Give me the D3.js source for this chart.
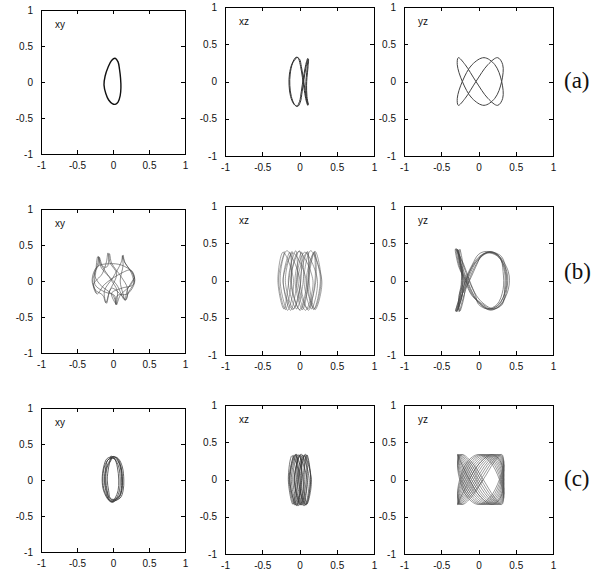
<!DOCTYPE html>
<html><head><meta charset="utf-8">
<script src="https://cdn.jsdelivr.net/npm/d3@7"></script>
<style>
body{margin:0;background:#fff}
svg{display:block}
.sans{font-family:"Liberation Sans", Arial, Helvetica, sans-serif;}
.serif{font-family:"Liberation Serif", "Times New Roman", Times, serif;}
</style>
</head><body>
<svg id="chart" width="600" height="573"></svg>
<script>
// ---------- data ----------
const tickValues = [-1, -0.5, 0, 0.5, 1];
const tickLabels = ["-1", "-0.5", "0", "0.5", "1"];
const panelNames = ["xy", "xz", "yz"];
const rowLabels = ["(a)", "(b)", "(c)"];

const aXY = [[0.03,0.33],[0.07,0.28],[0.09,0.18],[0.105,0.05],[0.11,-0.08],[0.10,-0.19],[0.07,-0.28],[0.03,-0.31],[-0.01,-0.30],[-0.06,-0.25],[-0.10,-0.16],[-0.125,-0.04],[-0.11,0.08],[-0.07,0.20],[-0.02,0.30]];

const aXZ = [[-0.03,0.33],[-0.09,0.25],[-0.125,0.1],[-0.13,-0.05],[-0.11,-0.2],[-0.065,-0.31],[-0.025,-0.335],[0.01,-0.28],[0.035,-0.14],[0.06,0.03],[0.085,0.18],[0.105,0.27],[0.12,0.30],[0.115,0.2],[0.1,0.05],[0.095,-0.05],[0.1,-0.2],[0.115,-0.29],[0.12,-0.31],[0.1,-0.26],[0.075,-0.12],[0.05,0.05],[0.025,0.2],[0.0,0.3],
[-0.045,0.325],[-0.1,0.24],[-0.135,0.1],[-0.14,-0.05],[-0.12,-0.2],[-0.075,-0.305],[-0.035,-0.33],[0.0,-0.27],[0.025,-0.13],[0.05,0.04],[0.075,0.18],[0.095,0.27],[0.11,0.31],[0.105,0.2],[0.09,0.05],[0.085,-0.05],[0.09,-0.2],[0.105,-0.29],[0.11,-0.32],[0.09,-0.26],[0.065,-0.12],[0.04,0.05],[0.015,0.2],[-0.01,0.3],[-0.03,0.33]];

const aYZ = [[-0.034,0],[0.126,0.226],[0.257,0.32],[0.325,0.226],[0.311,0],[0.219,-0.226],[0.074,-0.32],[-0.086,-0.226],[-0.217,0],[-0.285,0.226],[-0.271,0.32],[-0.179,0.226],
[-0.034,0],[0.126,-0.226],[0.257,-0.32],[0.325,-0.226],[0.311,0],[0.219,0.226],[0.074,0.32],[-0.086,0.226],[-0.217,0],[-0.285,-0.226],[-0.271,-0.32],[-0.179,-0.226]];

const bXY = [[-0.23,-0.17],[-0.28,0.0],[-0.24,0.15],[-0.21,0.25],[-0.2,0.34],[-0.17,0.24],[-0.05,0.05],[0.06,-0.14],[0.05,-0.33],[0.1,-0.2],[0.25,-0.05],[0.29,0.05],[0.22,0.18],[0.16,0.26],[0.14,0.36],[0.11,0.25],[0.0,0.05],[-0.12,-0.14],[-0.09,-0.31],[-0.05,-0.15],[0.05,0.1],[-0.04,0.25],[-0.07,0.39],[-0.09,0.27],[-0.15,0.1],[-0.27,-0.05],[-0.22,-0.18],[-0.12,-0.05],[0.1,0.1],[0.25,0.15],[0.3,0.0],[0.22,-0.15],[0.17,-0.27],[0.14,-0.18],[0.1,0.0],[0.14,0.22],[0.13,0.35],[0.17,0.25],[0.26,0.1],[0.28,-0.05],[0.12,-0.1],[-0.02,-0.17],[0.04,-0.32],[0.0,-0.2],[-0.18,-0.05],[-0.26,0.1],[-0.2,0.22],[-0.19,0.33],[-0.14,0.2],[-0.08,0.2],[-0.05,0.38],[-0.02,0.25],[0.12,0.05],[0.2,-0.1],[0.18,-0.26],[0.12,-0.2],[-0.02,-0.1],[-0.1,-0.3],[-0.14,-0.2],[-0.25,-0.12],[-0.29,0.02],[-0.22,0.2],[-0.05,0.24],[0.12,0.22],[0.27,0.12],[0.3,-0.02],[0.2,-0.18],[0.06,-0.2],[0.04,-0.33],[0.02,-0.2],[-0.12,-0.15],[-0.25,-0.05],[-0.24,0.12],[-0.21,0.34],[-0.16,0.18],[0.05,-0.05],[0.16,-0.26],[0.2,-0.12],[0.3,0.05]];

const bXZ = [[-0.20,0.39],[-0.28,0.02],[-0.19,-0.39],[-0.11,-0.01],
[-0.13,0.38],[-0.22,0.0],[-0.12,-0.40],[-0.03,0.02],
[-0.05,0.40],[-0.15,-0.02],[-0.04,-0.38],[0.05,0.0],
[0.03,0.38],[-0.06,0.01],[0.04,-0.39],[0.12,-0.01],
[0.11,0.39],[0.01,0.0],[0.12,-0.40],[0.21,0.02],
[0.19,0.37],[0.09,-0.01],[0.2,-0.38],[0.29,0.0],
[0.21,0.39],[0.13,0.02],[0.21,-0.39],[0.3,-0.01],
[0.15,0.40],[0.06,0.0],[0.16,-0.38],[0.24,0.01],
[0.07,0.38],[-0.04,-0.01],[0.08,-0.40],[0.18,0.0],
[-0.01,0.39],[-0.11,0.02],[0.0,-0.39],[0.09,0.0],
[-0.09,0.37],[-0.19,0.0],[-0.08,-0.38],[0.01,-0.02],
[-0.17,0.40],[-0.26,0.01],[-0.16,-0.40],[-0.08,0.0],
[-0.22,0.38],[-0.29,0.0],[-0.21,-0.38],[-0.14,0.02],
[-0.10,0.39],[-0.22,-0.01],[-0.09,-0.39],[0.02,0.01],
[0.0,0.40],[-0.12,0.0],[0.01,-0.40],[0.12,-0.01],
[0.10,0.38],[-0.02,0.01],[0.11,-0.38],[0.22,0.0],
[0.20,0.39],[0.11,0.0],[0.19,-0.39],[0.28,0.01],[0.2,0.38]];

const bYZ = [[-0.29,-0.42],[-0.24,-0.25],[-0.15,0],[-0.05,0.22],[0.05,0.34],[0.15,0.38],[0.28,0.32],[0.36,0.12],[0.36,-0.12],[0.28,-0.32],[0.15,-0.38],[0.03,-0.32],[-0.06,-0.2],[-0.15,0],[-0.23,0.22],[-0.29,0.42],[-0.25,0.2],[-0.21,0],[-0.25,-0.2],
[-0.31,-0.41],[-0.26,-0.25],[-0.17,0],[-0.07,0.22],[0.02,0.33],[0.12,0.37],[0.25,0.33],[0.38,0.12],[0.38,-0.12],[0.31,-0.32],[0.18,-0.39],[0.06,-0.32],[-0.08,-0.2],[-0.17,0],[-0.25,0.22],[-0.27,0.41],[-0.23,0.2],[-0.22,0],[-0.26,-0.2],
[-0.26,-0.42],[-0.21,-0.25],[-0.13,0],[-0.03,0.22],[0.07,0.35],[0.17,0.39],[0.29,0.31],[0.33,0.12],[0.33,-0.12],[0.25,-0.32],[0.12,-0.38],[0.0,-0.32],[-0.04,-0.2],[-0.13,0],[-0.21,0.22],[-0.3,0.43],[-0.26,0.2],[-0.19,0],[-0.22,-0.2],
[-0.28,-0.40],[-0.23,-0.25],[-0.18,0],[-0.08,0.22],[0.0,0.35],[0.10,0.39],[0.25,0.35],[0.40,0.12],[0.40,-0.12],[0.29,-0.33],[0.16,-0.40],[0.04,-0.32],[-0.09,-0.2],[-0.18,0],[-0.24,0.22],[-0.25,0.42],[-0.21,0.2],[-0.23,0],[-0.24,-0.2],
[-0.30,-0.42],[-0.25,-0.25],[-0.12,0],[-0.02,0.22],[0.04,0.34],[0.14,0.38],[0.27,0.32],[0.35,0.12],[0.35,-0.12],[0.32,-0.32],[0.20,-0.38],[0.08,-0.32],[-0.03,-0.2],[-0.12,0],[-0.2,0.22],[-0.31,0.42],[-0.27,0.2],[-0.2,0],[-0.26,-0.2],
[-0.25,-0.41],[-0.2,-0.25],[-0.16,0],[-0.06,0.22],[0.08,0.35],[0.18,0.38],[0.31,0.32],[0.37,0.12],[0.37,-0.12],[0.27,-0.32],[0.14,-0.39],[0.02,-0.32],[-0.07,-0.2],[-0.16,0],[-0.24,0.22],[-0.28,0.42],[-0.24,0.2],[-0.22,0],[-0.22,-0.2],[-0.29,-0.42]];

const cXY = [[0,0.33],[0.05,0.30],[0.11,0.18],[0.13,0],[0.12,-0.15],[0.08,-0.25],[0,-0.30],[-0.05,-0.28],[-0.12,-0.15],[-0.14,0],[-0.12,0.18],[-0.05,0.30],
[0.03,0.32],[0.08,0.29],[0.13,0.18],[0.15,0],[0.14,-0.15],[0.10,-0.25],[0.0,-0.29],[-0.05,-0.27],[-0.08,-0.15],[-0.10,0],[-0.08,0.18],[-0.02,0.29],
[-0.02,0.31],[0.03,0.28],[0.08,0.18],[0.10,0],[0.09,-0.15],[0.05,-0.25],[0,-0.31],[-0.05,-0.29],[-0.10,-0.15],[-0.12,0],[-0.10,0.18],[-0.07,0.28],
[0.01,0.30],[0.06,0.27],[0.10,0.18],[0.12,0],[0.11,-0.15],[0.07,-0.24],[0,-0.27],[-0.04,-0.25],[-0.06,-0.15],[-0.08,0],[-0.06,0.18],[-0.04,0.27],
[-0.03,0.33],[0.02,0.30],[0.06,0.18],[0.08,0],[0.07,-0.15],[0.03,-0.25],[-0.01,-0.30],[-0.06,-0.28],[-0.13,-0.15],[-0.15,0],[-0.13,0.18],[-0.08,0.30],
[0.02,0.32],[0.07,0.29],[0.11,0.18],[0.13,0],[0.12,-0.15],[0.08,-0.24],[0.01,-0.28],[-0.04,-0.26],[-0.09,-0.15],[-0.11,0],[-0.09,0.18],[-0.03,0.29],[0,0.33]];

const cXZ = [[-0.08,0.33],[-0.14,0.01],[-0.07,-0.34],[-0.02,0.0],
[-0.04,0.34],[-0.11,0.0],[-0.03,-0.35],[0.03,0.01],
[0.0,0.33],[-0.07,-0.01],[0.01,-0.34],[0.07,0.0],
[0.04,0.33],[-0.03,0.0],[0.05,-0.35],[0.11,0.01],
[0.08,0.34],[0.01,0.01],[0.09,-0.34],[0.15,0.0],
[0.10,0.33],[0.05,0.0],[0.1,-0.33],[0.16,0.0],
[0.06,0.32],[-0.01,0.0],[0.07,-0.35],[0.13,0.01],
[0.02,0.34],[-0.06,0.01],[0.03,-0.34],[0.1,0.0],
[-0.02,0.33],[-0.09,0.0],[-0.01,-0.35],[0.05,-0.01],
[-0.06,0.33],[-0.13,0.01],[-0.05,-0.34],[0.01,0.0],
[-0.10,0.32],[-0.15,0.0],[-0.09,-0.33],[-0.04,0.0],
[-0.05,0.34],[-0.13,0.0],[-0.04,-0.35],[0.03,0.01],
[0.01,0.33],[-0.07,0.0],[0.02,-0.34],[0.09,0.0],
[0.07,0.33],[-0.01,0.01],[0.08,-0.34],[0.15,0.0],[0.1,0.33]];

const cYZ = [
[-0.125,0],[0.03,0.237],[0.185,0.335],[0.298,0.237],[0.34,0],[0.298,-0.237],[0.185,-0.335],[0.03,-0.237],[-0.125,0],[-0.238,0.237],[-0.28,0.335],[-0.238,0.237],
[-0.125,0],[0.03,-0.237],[0.185,-0.335],[0.298,-0.237],[0.34,0],[0.298,0.237],[0.185,0.335],[0.03,0.237],[-0.125,0],[-0.238,-0.237],[-0.28,-0.335],[-0.238,-0.237],
[-0.096,0],[0.063,0.237],[0.212,0.335],[0.313,0.237],[0.338,0],[0.281,-0.237],[0.156,-0.335],[-0.003,-0.237],[-0.152,0],[-0.253,0.237],[-0.278,0.335],[-0.221,0.237],
[-0.096,0],[0.063,-0.237],[0.212,-0.335],[0.313,-0.237],[0.338,0],[0.281,0.237],[0.156,0.335],[-0.003,0.237],[-0.152,0],[-0.253,-0.237],[-0.278,-0.335],[-0.221,-0.237],
[-0.066,0],[0.094,0.237],[0.237,0.335],[0.325,0.237],[0.333,0],[0.26,-0.237],[0.126,-0.335],[-0.034,-0.237],[-0.177,0],[-0.265,0.237],[-0.273,0.335],[-0.2,0.237],
[-0.066,0],[0.094,-0.237],[0.237,-0.335],[0.325,-0.237],[0.333,0],[0.26,0.237],[0.126,0.335],[-0.034,0.237],[-0.177,0],[-0.265,-0.237],[-0.273,-0.335],[-0.2,-0.237],
[-0.034,0],[0.126,0.237],[0.26,0.335],[0.333,0.237],[0.325,0],[0.237,-0.237],[0.094,-0.335],[-0.066,-0.237],[-0.2,0],[-0.273,0.237],[-0.265,0.335],[-0.177,0.237],
[-0.034,0],[0.126,-0.237],[0.26,-0.335],[0.333,-0.237],[0.325,0],[0.237,0.237],[0.094,0.335],[-0.066,0.237],[-0.2,0],[-0.273,-0.237],[-0.265,-0.335],[-0.177,-0.237],
[-0.003,0],[0.156,0.237],[0.281,0.335],[0.338,0.237],[0.313,0],[0.212,-0.237],[0.063,-0.335],[-0.096,-0.237],[-0.221,0],[-0.278,0.237],[-0.253,0.335],[-0.152,0.237],
[-0.003,0],[0.156,-0.237],[0.281,-0.335],[0.338,-0.237],[0.313,0],[0.212,0.237],[0.063,0.335],[-0.096,0.237],[-0.221,0],[-0.278,-0.237],[-0.253,-0.335],[-0.152,-0.237],
[0.03,0],[0.185,0.237],[0.298,0.335],[0.34,0.237],[0.298,0],[0.185,-0.237],[0.03,-0.335],[-0.125,-0.237],[-0.238,0],[-0.28,0.237],[-0.238,0.335],[-0.125,0.237],
[0.03,0],[0.185,-0.237],[0.298,-0.335],[0.34,-0.237],[0.298,0],[0.185,0.237],[0.03,0.335],[-0.125,0.237],[-0.238,0],[-0.28,-0.237],[-0.238,-0.335],[-0.125,-0.237],
[0.063,0],[0.212,0.237],[0.313,0.335],[0.338,0.237],[0.281,0],[0.156,-0.237],[-0.003,-0.335],[-0.152,-0.237],[-0.253,0],[-0.278,0.237],[-0.221,0.335],[-0.096,0.237],
[0.063,0],[0.212,-0.237],[0.313,-0.335],[0.338,-0.237],[0.281,0],[0.156,0.237],[-0.003,0.335],[-0.152,0.237],[-0.253,0],[-0.278,-0.237],[-0.221,-0.335],[-0.096,-0.237],[0.063,0]];

// ---------- layout ----------
const rows = [
  [aXY, aXZ, aYZ],
  [bXY, bXZ, bYZ],
  [cXY, cXZ, cYZ]
];
const closedFlags = [[true, false, true],[false,false,false],[false,false,false]];
const colLeft = [41, 225, 404];
const colSize = [144, 149, 149];
const rowTop = [[10,7,7],[209,206,206],[408,405,405]];
const strokeStyle = [
  [{c:"#111",w:1.4},{c:"#333",w:1.0},{c:"#444",w:1.0}],
  [{c:"#444",w:0.6},{c:"#555",w:0.55},{c:"#444",w:0.6}],
  [{c:"#333",w:0.75},{c:"#333",w:0.65},{c:"#555",w:0.6}]
];
const rowLabelY = [88, 279, 486];

const svg = d3.select("#chart");

rows.forEach((row, ri) => {
  row.forEach((data, ci) => {
    const size = colSize[ci];
    const g = svg.append("g").attr("transform", `translate(${colLeft[ci]},${rowTop[ri][ci]})`);
    const x = d3.scaleLinear().domain([-1, 1]).range([0, size]);
    const y = d3.scaleLinear().domain([-1, 1]).range([size, 0]);
    const fmt = (d) => tickLabels[tickValues.indexOf(d)];

    const axL = g.append("g").call(d3.axisLeft(y).tickValues(tickValues).tickSize(-4).tickPadding(8).tickFormat(fmt));
    const axB = g.append("g").attr("transform", `translate(0,${size})`)
      .call(d3.axisBottom(x).tickValues(tickValues).tickSize(-4).tickPadding(8).tickFormat(fmt));
    const axT = g.append("g").call(d3.axisTop(x).tickValues(tickValues).tickSize(-4).tickFormat(""));
    const axR = g.append("g").attr("transform", `translate(${size},0)`)
      .call(d3.axisRight(y).tickValues(tickValues).tickSize(-4).tickFormat(""));
    [axL, axB, axT, axR].forEach(a => {
      a.attr("font-family", null).attr("font-size", null);
      a.select(".domain").remove();
      a.selectAll(".tick line").attr("stroke", "#000").attr("shape-rendering", "crispEdges");
      a.selectAll("text").attr("class", "sans").style("font-size", "10px").attr("fill", "#111");
    });

    const line = d3.line()
      .x(d => x(d[0])).y(d => y(d[1]))
      .curve(closedFlags[ri][ci] ? d3.curveCatmullRomClosed.alpha(0.5) : d3.curveCatmullRom.alpha(0.5));
    g.append("path").datum(data)
      .attr("d", line)
      .attr("fill", "none")
      .attr("stroke", strokeStyle[ri][ci].c)
      .attr("stroke-width", strokeStyle[ri][ci].w)
      .attr("stroke-linejoin", "round");

    g.append("rect").attr("x", 0).attr("y", 0).attr("width", size).attr("height", size)
      .attr("fill", "none").attr("stroke", "#000").attr("stroke-width", 1).attr("shape-rendering", "crispEdges");

    g.append("text").attr("x", 14).attr("y", 18)
      .attr("class", "sans").style("font-size", "10px").attr("fill", "#111")
      .text(panelNames[ci]);
  });
  svg.append("text").attr("x", 564).attr("y", rowLabelY[ri])
    .attr("class", "serif").style("font-size", "23px").attr("fill", "#111")
    .text(rowLabels[ri]);
});
</script>
</body></html>
